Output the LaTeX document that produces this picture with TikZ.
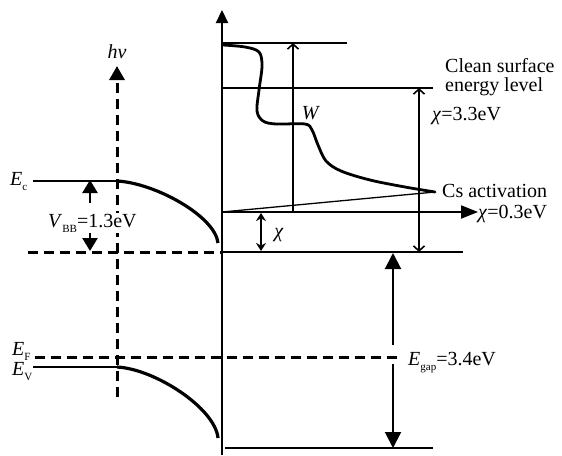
\documentclass[tikz,border=0pt]{standalone}
\usepackage{fontspec}
\setmainfont{Liberation Serif}
\usetikzlibrary{arrows.meta}
\newcommand\mysub[1]{\raisebox{-5pt}{\fontsize{11}{11}\selectfont #1}}
\begin{document}
\begin{tikzpicture}[x=1pt,y=-1pt,
  lvl/.style={line width=2pt},
  dsh/.style={line width=3pt, dash pattern=on 10pt off 6pt},
  thin arrow/.style={line width=1.6pt},
  bigtri/.style={-{Triangle[width=15pt,length=14pt]}},
  lbl/.style={anchor=base west, inner sep=0pt, font=\fontsize{20}{20}\selectfont},
  ctr/.style={inner sep=0pt, font=\fontsize{20}{20}\selectfont}
]
\useasboundingbox (0,0) rectangle (562,455);
% coordinates
\coordinate (axB) at (222,455);
\coordinate (axT) at (222,10);
\coordinate (topL) at (222,43);
\coordinate (topR) at (347,43);
\coordinate (clL) at (222,88);
\coordinate (clR) at (433,88);
\coordinate (csL) at (222,212);
\coordinate (csR) at (478,212);
\coordinate (tip) at (435,192);
\coordinate (cbL) at (222,252);
\coordinate (cbR) at (463,252);
\coordinate (dL) at (28,252);
\coordinate (efL) at (35,357);
\coordinate (efR) at (400,357);
\coordinate (botL) at (225,448);
\coordinate (botR) at (433,448);
\coordinate (wB) at (293,211);
\coordinate (wT) at (293,43);
\coordinate (c1B) at (419,252);
\coordinate (c1T) at (419,88);
\coordinate (c2T) at (261,213);
\coordinate (c2B) at (261,251);
\coordinate (gU1) at (393,345);
\coordinate (gU2) at (393,253);
\coordinate (gD1) at (393,364);
\coordinate (gD2) at (393,448);
\coordinate (ecL) at (33,181);
\coordinate (ecM) at (117,181);
\coordinate (ecE) at (218,243);
\coordinate (evL) at (33,367);
\coordinate (evM) at (117,367);
\coordinate (evE) at (218,438);
\coordinate (hvB) at (117,397);
\coordinate (hvT) at (117,66);
\coordinate (vb1) at (90,203);
\coordinate (vb1t) at (90,180);
\coordinate (vb2) at (90,228);
\coordinate (vb2t) at (90,251);

% axis
\draw[line width=2.2pt, -{Triangle[width=12pt,length=13pt]}] (axB) -- (axT);
% levels
\draw[lvl] (topL) -- (topR);
\draw[lvl] (clL) -- (clR);
\draw[lvl] (cbL) -- (cbR);
\draw[lvl] (botL) -- (botR);
\draw[line width=1.8pt, -{Triangle[width=13pt,length=17pt]}] (csL) -- (csR);
\draw[line width=1.3pt] (csL) -- (tip);
% work function curve
\draw[line width=2.8pt, line join=round, line cap=round] plot[smooth, tension=0.55] coordinates {
 (223,45) (245,47) (259,52) (262,66) (259,90) (257,111) (263,121) (276,124)
 (305,124) (312,130) (318,145) (326,161) (341,171) (370,180) (405,187) (435,192)};
% arrows
\draw[thin arrow, -{Straight Barb[width=11pt,length=5pt]}] (wB) -- (wT);
\draw[thin arrow, {Straight Barb[width=11pt,length=5pt]}-{Straight Barb[width=11pt,length=5pt]}] (c1B) -- (c1T);
\draw[line width=2pt, {Stealth[width=10pt,length=8pt]}-{Stealth[width=10pt,length=8pt]}] (c2B) -- (c2T);
\draw[line width=2pt, -{Triangle[width=16pt,length=16pt]}] (gU1) -- (gU2);
\draw[line width=2pt, -{Triangle[width=16pt,length=16pt]}] (gD1) -- (gD2);
% dashed
\draw[dsh] (dL) -- (cbL);
\draw[dsh] (efL) -- (efR);
\draw[dsh, bigtri] (hvB) -- (hvT);
% bands
\draw[lvl] (ecL) -- (ecM);
\draw[line width=3.2pt] (ecM) .. controls (155,183) and (215,216) .. (ecE);
\draw[lvl] (evL) -- (evM);
\draw[line width=3.2pt] (evM) .. controls (155,369) and (215,408) .. (evE);
% V_BB
\draw[line width=2.5pt, -{Triangle[width=15pt,length=13pt]}] (vb1) -- (vb1t);
\draw[line width=2.5pt, -{Triangle[width=15pt,length=13pt]}] (vb2) -- (vb2t);

% labels
\node[ctr] (hv) at (117,52) {\textit{hv}};
\node[lbl] (Ec) at (10,185) {\textit{E}\mysub{c}};
\node[lbl, fill=white, inner sep=1pt] (Vbb) at (47,227) {\textit{V}\mysub{BB}=1.3eV};
\node[lbl] (EF) at (12,355) {\textit{E}\mysub{F}};
\node[lbl] (EV) at (12,375) {\textit{E}\mysub{V}};
\node[ctr] (W) at (311,113) {\textit{W}};
\node[ctr] (chi) at (279,235) {\textit{χ}};
\node[lbl] (clean1) at (445,72) {Clean surface};
\node[lbl] (clean2) at (445,91) {energy level};
\node[lbl] (chi33) at (432,120) {\textit{χ}=3.3eV};
\node[lbl] (cs) at (442,197) {Cs activation};
\node[lbl] (chi03) at (478,218) {\textit{χ}=0.3eV};
\node[lbl] (Egap) at (408,365) {\textit{E}\mysub{gap}=3.4eV};
\end{tikzpicture}
\end{document}
